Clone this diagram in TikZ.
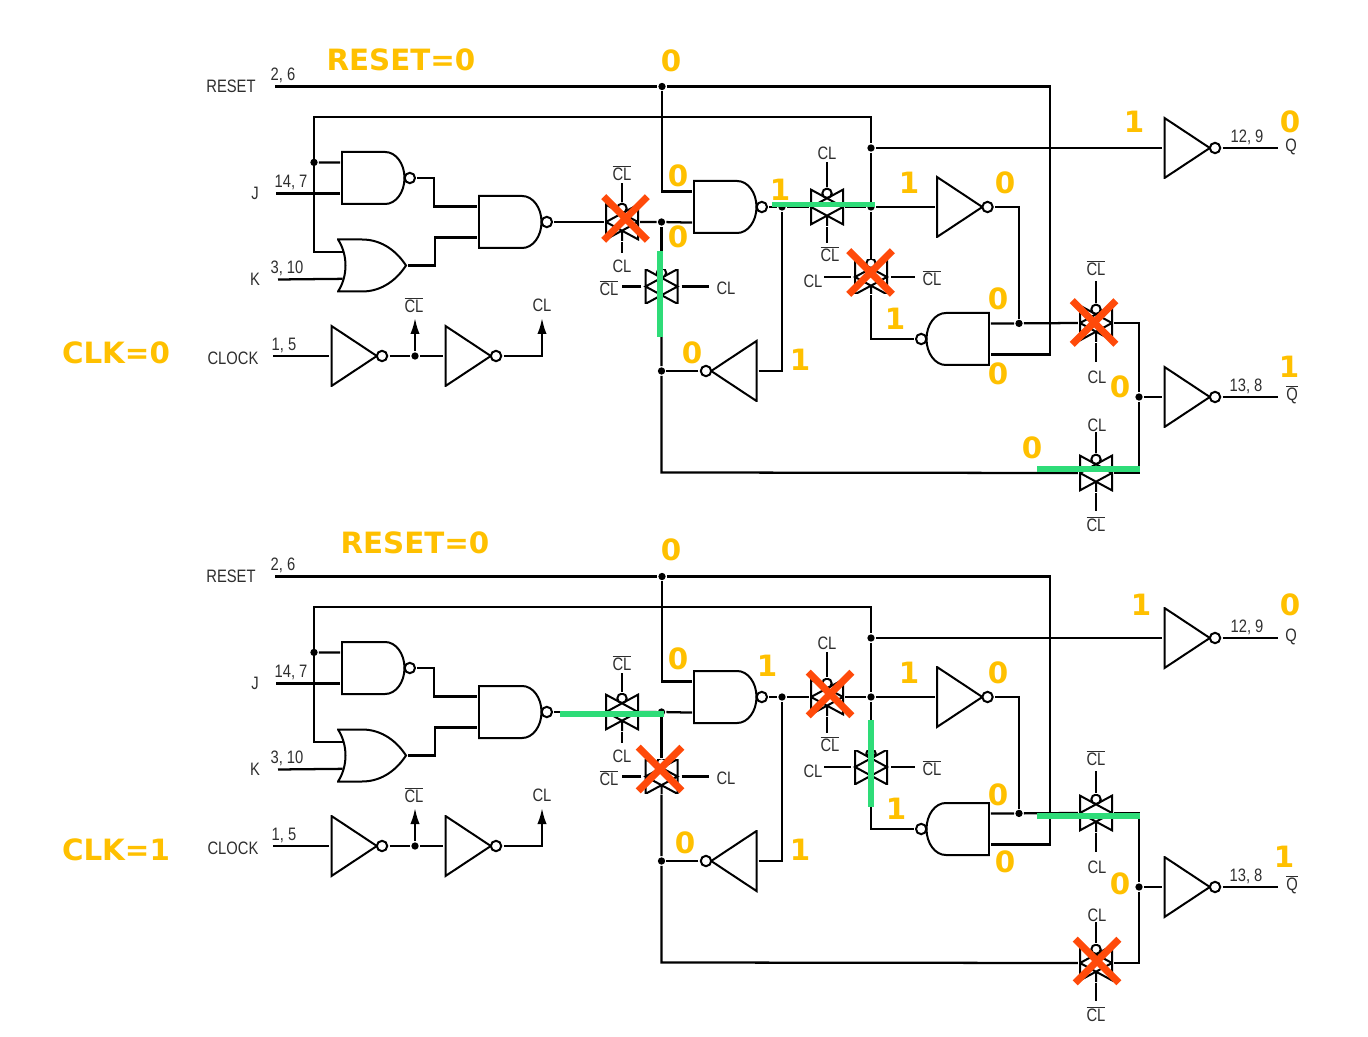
\documentclass[tikz,border=0pt]{standalone}
\usepackage{fontspec}
\usetikzlibrary{shapes.misc,arrows.meta}
\newfontfamily\cirfont[FakeStretch=0.82]{Liberation Sans}
\newfontfamily\valfont{DejaVu Sans}
\definecolor{valcol}{HTML}{FFC000}
\definecolor{passcol}{HTML}{2EDC78}
\definecolor{offcol}{HTML}{FF4A0A}
\definecolor{inkcol}{HTML}{2E2E2E}
\newcommand{\clb}{$\overline{\hbox{CL}}$}
\newcommand{\qb}{$\overline{\hbox{Q}}$}
\tikzset{inside/.style = {shift={(path picture bounding box.center)}, line width=1.5pt}}
% bow-tie of the transmission gate, #1 turns it
\newcommand{\tgatepath}[1]{\draw[inside, #1]
  (-12pt,13pt) -- (-12pt,-13pt) -- (12pt,0pt) -- cycle
  (12pt,13pt) -- (12pt,-13pt) -- (-12pt,0pt) -- cycle
  (0pt,-6.5pt) -- (0pt,-14.25pt);
  \filldraw[inside, #1, fill=white] (0pt,10.3pt) circle (3.5pt);}
% triangle and bubble of the inverter
\newcommand{\invpath}{\draw[inside]
  (-21pt,22.5pt) -- (-21pt,-22.5pt) -- (13pt,0pt) -- cycle;
  \filldraw[inside, fill=white] (16.9pt,0pt) circle (3.9pt);}
\newcommand{\invlpath}{\draw[inside]
  (21pt,22.5pt) -- (21pt,-22.5pt) -- (-13pt,0pt) -- cycle;
  \filldraw[inside, fill=white] (-16.9pt,0pt) circle (3.9pt);}
% flat back, round front and bubble of the nand
\newcommand{\nandpath}{\draw[inside]
  (-27.4pt,19.5pt) -- (5pt,19.5pt) arc[start angle=90, end angle=-90, x radius=14.5pt, y radius=19.5pt] -- (-27.4pt,-19.5pt) -- cycle;
  \filldraw[inside, fill=white] (23.5pt,0pt) circle (3.9pt);}
\newcommand{\nandlpath}{\draw[inside]
  (27.4pt,19.5pt) -- (-5pt,19.5pt) arc[start angle=90, end angle=270, x radius=14.5pt, y radius=19.5pt] -- (27.4pt,-19.5pt) -- cycle;
  \filldraw[inside, fill=white] (-23.5pt,0pt) circle (3.9pt);}
% or gate with hollow back
\newcommand{\orpath}{\draw[inside]
  (-25.5pt,19.5pt) -- (-7.5pt,19.5pt) .. controls (8pt,19.5pt) and (19pt,10pt) .. (25.5pt,0pt)
  .. controls (19pt,-10pt) and (8pt,-19.5pt) .. (-7.5pt,-19.5pt) -- (-25.5pt,-19.5pt)
  .. controls (-18pt,-8pt) and (-18pt,8pt) .. (-25.5pt,19.5pt) -- cycle;}
\begin{document}
\begin{tikzpicture}[x=0.75pt, y=-0.75pt, line width=1.7pt,
  nandg/.style = {minimum width=56pt, minimum height=41.5pt, inner sep=0pt, path picture={\nandpath}},
  nandl/.style = {minimum width=56pt, minimum height=41.5pt, inner sep=0pt, path picture={\nandlpath}},
  norg/.style = {minimum width=52.5pt, minimum height=41.5pt, inner sep=0pt, path picture={\orpath}},
  invg/.style = {minimum width=43.5pt, minimum height=46.5pt, inner sep=0pt, path picture={\invpath}},
  invl/.style = {minimum width=43.5pt, minimum height=46.5pt, inner sep=0pt, path picture={\invlpath}},
  tgate/.style = {minimum width=25.5pt, minimum height=28.5pt, inner sep=0pt, path picture={\tgatepath{}}},
  tgatev/.style = {minimum width=28.5pt, minimum height=25.5pt, inner sep=0pt, path picture={\tgatepath{rotate=-90}}},
  jdot/.style = {circle, fill, inner sep=0pt, minimum size=5.5pt},
  lbl/.style = {font=\cirfont\fontsize{13.5}{15}\selectfont, text=inkcol, inner sep=0pt},
  pin/.style = {font=\cirfont\fontsize{13.5}{15}\selectfont, text=inkcol, inner sep=0pt},
  val/.style = {font=\valfont\bfseries\fontsize{22}{24}\selectfont, text=valcol, inner sep=0pt},
  redx/.style = {cross out, draw=offcol, line width=5.3pt, minimum size=27.5pt, inner sep=0pt},
  bar/.style = {draw=passcol, line width=3.8pt},
  up/.style = {-{Latex[length=12pt,width=7pt]}}]
\useasboundingbox (0,0) rectangle (1368,1037);

\foreach \p/\dy in {a/0, b/490} {
\begin{scope}[shift={(0,\dy)}, name prefix=\p-]
% gates
\node[nandg] (n1) at (378.5,178) {};
\node[norg] (o1) at (372,265.5) {};
\node[nandg] (n3) at (515.5,222) {};
\node[nandg] (n2) at (730.5,207) {};
\node[nandl] (n4) at (952.5,339) {};
\node[invg] (c1) at (359.5,356) {};
\node[invg] (c2) at (473.5,356) {};
\node[invg] (i3) at (965,207) {};
\node[invl] (i4) at (728.5,371) {};
\node[invg] (q1) at (1192.5,148) {};
\node[invg] (q2) at (1192.5,397) {};
% transmission gates
\node[tgate] (t1) at (622,222) {};
\node[tgate] (t2) at (827,207) {};
\node[tgate] (t3) at (1096,323) {};
\node[tgate] (t4) at (1096,473) {};
\node[tgatev] (t5) at (661.5,286.5) {};
\node[tgatev] (t6) at (871,277) {};
% junctions
\node[jdot] (rj) at (662,86.5) {};
\node[jdot] (jd) at (314,162.4) {};
\node[jdot] (qd) at (871,148) {};
\node[jdot] (mj) at (871,207) {};
\node[jdot] (dj) at (661.5,222) {};
\node[jdot] (oj) at (782,207) {};
\node[jdot] (fj) at (661.5,371) {};
\node[jdot] (gj) at (1019,323.4) {};
\node[jdot] (qj) at (1139,397) {};
\node[jdot] (cj) at (415,356) {};
% free ends and corners
\coordinate (rstin) at (275,86.5);
\coordinate (rbend) at (1050,86.5);
\coordinate (ftl) at (314,117);
\coordinate (ftr) at (871,117);
\coordinate (jin) at (276,193.6);
\coordinate (kin) at (278,279.5);
\coordinate (clkin) at (273,356);
\coordinate (fbl) at (661.5,472.5);
\coordinate (clbtip) at (415,318);
\coordinate (cltip) at (542,318);
\coordinate (qout) at (1278,148);
\coordinate (qbout) at (1278,397);

% wires
\draw (rstin) -- (rj) -- (rbend) |- ([yshift=-11.7pt]n4.east);
\draw (rj) |- ([yshift=11.7pt]n2.west);
\draw ([xshift=5pt,yshift=10pt]o1.west) -| (ftl) -- (ftr) -- (qd) -- (mj) -- (t6.north);
\draw (jd) -- ([yshift=11.7pt]n1.west);
\draw (jin) -- ([yshift=-11.7pt]n1.west);
\draw (kin) -- ([xshift=5pt,yshift=-10pt]o1.west);
\draw (qd) -- (q1.west);
\draw (n1.east) -- ++(17,0) |- ([yshift=11.7pt]n3.west);
\draw (o1.east) -- ++(27,0) |- ([yshift=-11.7pt]n3.west);
\draw (n3.east) -- (t1.west);
\draw (t1.east) -- (dj) -- ([yshift=-11.7pt]n2.west);
\draw (dj) -- (t5.north);
\draw (t5.south) -- (fj) -- (fbl) -- (t4.west);
\draw (n2.east) -- (oj) -- (t2.west);
\draw (t2.east) -- (mj) -- (i3.west);
\draw (i3.east) -| (gj);
\draw ([yshift=11.7pt]n4.east) -- (gj) -- (t3.west);
\draw (t6.south) |- (n4.west);
\draw (t3.east) -| (qj) |- (t4.east);
\draw (qj) -- (q2.west);
\draw (i4.west) -- (fj);
\draw (i4.east) -| (oj);
\draw (clkin) -- (c1.west);
\draw (c1.east) -- (cj) -- (c2.west);
\draw[up] (cj) -- (clbtip);
\draw[up] (c2.east) -| (cltip);
\draw (q1.east) -- (qout);
\draw (q2.east) -- (qbout);
% clock stubs of the transmission gates
\draw (t1.north) -- ++(0,-19);
\draw (t1.south) -- ++(0,11);
\draw (t2.north) -- ++(0,-25);
\draw (t2.south) -- ++(0,16);
\draw (t3.north) -- ++(0,-22);
\draw (t3.south) -- ++(0,19);
\draw (t4.north) -- ++(0,-21);
\draw (t4.south) -- ++(0,18);
\draw (t5.west) -- ++(-19,0);
\draw (t5.east) -- ++(27,0);
\draw (t6.west) -- ++(-27,0);
\draw (t6.east) -- ++(24,0);

% printed labels
\foreach \x/\y/\t [count=\i] in {231/86/RESET, 233/358/CLOCK, 255/193/J, 255/279/K, 1291/147/Q, 1292/395/\qb,
  414/305/\clb, 542/305/CL, 622/173/\clb, 622/266/CL, 827/153/CL, 830/254/\clb, 609/288/\clb, 726/288/CL,
  813/281/CL, 932/278/\clb, 1096/268/\clb, 1097/377/CL, 1097/425/CL, 1096/524/\clb}
  \node[lbl] (l\i) at (\x,\y) {\t};
\foreach \x/\y/\t [count=\i] in {283/75/{2, 6}, 291/182/{14, 7}, 287/268/{3, 10}, 284/345/{1, 5}, 1247/137/{12, 9}, 1246/386/{13, 8}}
  \node[pin] (s\i) at (\x,\y) {\t};
\end{scope}
}

% logic levels, CLK=0
\foreach \x/\y/\t [count=\i] in {401/60/RESET=0, 116/353/CLK=0, 671/61/0, 1134/122/1, 1290/122/0, 678/176/0, 780/190/1, 909/183/1,
  1005/183/0, 678/237/0, 998/299/0, 895/319/1, 692/353/0, 800/360/1, 998/374/0, 1289/367/1, 1120/387/0, 1032/448/0}
  \node[val] (v\i) at (\x,\y) {\t};
% logic levels, CLK=1
\foreach \x/\y/\t [count=\i] in {415/543/RESET=0, 116/850/CLK=1, 671/550/0, 1141/605/1, 1290/605/0, 678/659/0, 767/666/1, 909/673/1,
  998/673/0, 896/809/1, 998/795/0, 685/843/0, 800/850/1, 1005/862/0, 1284/857/1, 1120/884/0}
  \node[val] (w\i) at (\x,\y) {\t};
% open paths
\draw[bar] (772,204.5) -- (875,204.5);
\draw[bar] (660,251) -- (660,337);
\draw[bar] (1037,469) -- (1140,469);
\draw[bar] (560,714) -- (664,714);
\draw[bar] (871,720) -- (871,807);
\draw[bar] (1037,816) -- (1140,816);
% blocked gates
\foreach \x/\y [count=\i] in {625.5/218.5, 870.5/272.5, 1094/322.5, 660/769, 830/694, 1097/961}
  \node[redx] (x\i) at (\x,\y) {};
\end{tikzpicture}
\end{document}
